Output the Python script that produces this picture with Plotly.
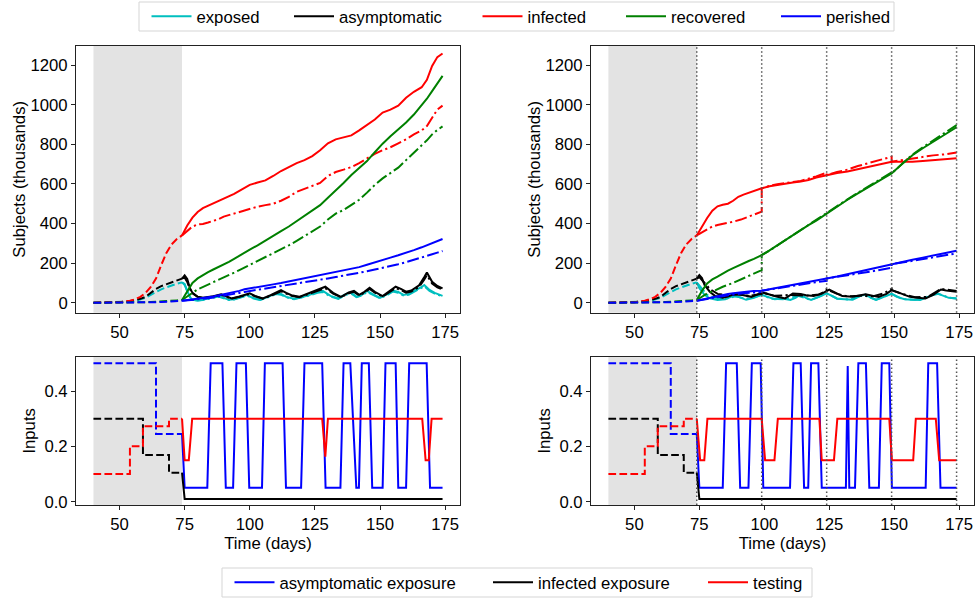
import plotly.graph_objects as go

# ---------------- data (thousands of subjects / input levels) ----------------
# shared history (dashed), days 40..74
pre_days = [40, 45, 50, 54, 56, 58, 60, 62, 64, 66, 68, 70, 72, 74]
pre_exposed = [0, 1, 2, 6, 10, 16, 25, 40, 55, 68, 78, 88, 96, 103]
pre_asymptomatic = [0, 1, 3, 8, 13, 20, 30, 50, 70, 84, 94, 104, 113, 122]
pre_infected = [0, 1, 3, 10, 18, 30, 50, 80, 122, 190, 252, 295, 322, 340]
pre_recovered = [0, 0, 0, 1, 1, 2, 3, 4, 5, 6, 8, 10, 12, 14]
pre_perished = [0, 0, 0, 0, 1, 1, 2, 2, 3, 4, 5, 6, 8, 10]

# left panel, after day 74 (solid = simulated, dash-dot = model)
L_days = [74, 76, 78, 80, 82, 84, 86, 88, 90, 92, 94, 96, 98, 100, 103, 106, 109, 112, 115, 118,
          121, 124, 127, 130, 133, 136, 139, 142, 145, 148, 151, 154, 157, 160, 163, 166, 168, 170, 172, 174]
L_infected = [340, 390, 430, 458, 478, 490, 500, 510, 522, 535, 550, 565, 582, 595, 607, 618, 640, 665, 685, 705,
              720, 740, 770, 805, 825, 835, 845, 870, 897, 925, 960, 975, 995, 1035, 1065, 1088, 1125, 1195, 1240, 1258]
L_infected_dd = [340, 365, 385, 395, 398, 405, 412, 422, 435, 443, 450, 460, 468, 475, 485, 493, 500, 515, 535, 560,
                 575, 588, 605, 640, 660, 672, 685, 705, 730, 752, 770, 785, 805, 825, 850, 870, 892, 935, 975, 995]
L_recovered = [14, 60, 100, 123, 140, 155, 168, 180, 193, 207, 222, 238, 255, 268, 290, 315, 340, 362, 385, 412,
               440, 468, 493, 530, 565, 605, 645, 680, 715, 760, 803, 840, 873, 910, 950, 995, 1030, 1068, 1105, 1145]
L_recovered_dd = [14, 30, 50, 68, 80, 90, 100, 112, 125, 140, 152, 165, 178, 190, 210, 230, 250, 268, 290, 312,
                  335, 358, 385, 420, 450, 468, 492, 520, 556, 595, 628, 655, 682, 720, 760, 795, 820, 850, 872, 890]
L_perished = [10, 13, 17, 20, 24, 28, 32, 37, 42, 47, 53, 60, 68, 72, 80, 86, 93, 100, 108, 116,
              125, 134, 140, 147, 155, 163, 171, 180, 192, 205, 216, 228, 240, 252, 266, 280, 290, 300, 311, 322]
L_perished_dd = [10, 12, 15, 17, 20, 23, 27, 31, 35, 40, 44, 50, 55, 59, 66, 72, 78, 85, 91, 98,
                 104, 110, 116, 123, 130, 137, 143, 150, 159, 168, 176, 185, 195, 205, 216, 228, 236, 245, 253, 261]

L_asym_days = [74, 75, 76, 77, 78, 80, 82, 84, 86, 89, 91, 93, 96, 100, 102, 105, 108, 112, 114, 116, 119, 122,
               125, 129, 132, 135, 138, 140, 142, 144, 146, 148, 151, 154, 156, 158, 160, 162, 165, 167, 168, 170, 172, 174]
L_asymptomatic = [122, 138, 120, 75, 50, 30, 25, 28, 33, 43, 32, 22, 32, 48, 35, 22, 38, 64, 50, 38, 30, 45,
                  60, 81, 50, 30, 52, 60, 40, 55, 76, 55, 34, 60, 81, 70, 56, 62, 88, 130, 153, 106, 85, 73]
L_asymptomatic_dd = [122, 128, 105, 70, 48, 30, 24, 26, 31, 40, 30, 21, 30, 44, 33, 21, 35, 58, 46, 35, 28, 42,
                     55, 74, 46, 28, 48, 55, 37, 51, 70, 51, 31, 55, 74, 64, 51, 57, 80, 118, 140, 97, 78, 67]
L_exp_days = [74, 75, 76, 77, 78, 80, 82, 84, 86, 88, 90, 92, 94, 97, 99, 101, 104, 107, 110, 112, 114, 117, 120,
              123, 126, 128, 131, 134, 137, 139, 141, 143, 145, 147, 150, 153, 155, 157, 159, 161, 164, 166, 167, 169, 171, 174]
L_exposed = [103, 95, 60, 30, 15, 12, 15, 22, 30, 35, 25, 15, 18, 32, 40, 25, 15, 30, 48, 45, 30, 20, 28,
             40, 55, 60, 35, 22, 45, 50, 30, 40, 60, 45, 25, 45, 62, 55, 40, 45, 65, 80, 90, 65, 50, 35]
L_exposed_dd = [103, 90, 58, 30, 15, 11, 14, 20, 28, 32, 23, 14, 17, 30, 37, 23, 14, 28, 44, 41, 28, 18, 26,
                37, 50, 55, 32, 20, 41, 46, 28, 37, 55, 41, 23, 41, 57, 50, 37, 41, 60, 74, 83, 60, 46, 32]

# right panel (model re-initialised every 25 days)
R_days = [74, 76, 78, 80, 82, 84, 86, 88, 90, 92, 94, 96, 99, 102, 105, 108, 111, 114, 117, 120,
          124, 128, 132, 136, 140, 144, 149, 153, 157, 161, 165, 170, 174]
R_infected = [340, 385, 428, 465, 487, 495, 500, 515, 535, 546, 555, 565, 578, 588, 595, 603, 607, 612, 620, 632,
              645, 655, 663, 675, 686, 698, 712, 712, 712, 716, 721, 725, 729]
R_recovered = [14, 60, 98, 118, 132, 148, 162, 175, 188, 200, 211, 222, 241, 265, 291, 318, 342, 368, 392, 415,
               451, 485, 520, 552, 583, 615, 653, 700, 745, 780, 813, 850, 886]
R_perished = [10, 16, 22, 28, 34, 39, 44, 48, 52, 54, 57, 59, 61, 68, 75, 83, 90, 98, 106, 113,
              123, 133, 145, 157, 168, 180, 195, 206, 217, 228, 239, 252, 263]
R_infected_dd_x = [74, 76, 78, 80, 82, 85, 88, 91, 94, 97, 99, 99, 102, 105, 108, 111, 114, 117, 120, 124,
                   124, 128, 132, 136, 140, 144, 148, 149, 149, 153, 157, 161, 165, 170, 174]
R_infected_dd = [340, 355, 368, 385, 393, 400, 409, 420, 434, 448, 460, 578, 590, 598, 605, 610, 615, 625, 638, 657,
                 645, 660, 672, 690, 705, 720, 735, 737, 712, 720, 729, 736, 744, 750, 758]
R_recovered_dd_x = [74, 76, 78, 81, 84, 88, 92, 96, 99, 99, 102, 106, 110, 114, 118, 121, 124, 124, 128, 132,
                    136, 140, 144, 149, 149, 153, 157, 161, 165, 170, 174]
R_recovered_dd = [14, 30, 47, 62, 81, 100, 125, 147, 165, 241, 263, 298, 333, 368, 400, 427, 455, 451, 487, 522,
                  555, 587, 620, 658, 653, 702, 748, 785, 820, 860, 897]
R_perished_dd_x = [74, 80, 86, 92, 99, 99, 105, 112, 118, 124, 124, 130, 136, 142, 149, 149, 155, 161, 168, 174]
R_perished_dd = [10, 25, 38, 48, 55, 61, 72, 88, 100, 111, 123, 135, 148, 160, 177, 195, 207, 222, 236, 249]

R_asym_days = [74, 75, 76, 77, 79, 81, 84, 86, 89, 92, 95, 97, 99, 102, 105, 108, 111, 114, 116, 119,
               122, 125, 128, 130, 134, 137, 139, 142, 144, 147, 149, 152, 156, 159, 162, 165, 168, 170, 174]
R_asymptomatic = [122, 140, 125, 90, 56, 35, 25, 32, 47, 38, 30, 40, 53, 42, 30, 22, 47, 45, 38, 34,
                  45, 67, 48, 34, 30, 38, 43, 35, 30, 45, 64, 50, 30, 25, 22, 40, 67, 62, 56]
R_exp_days = [74, 75, 77, 79, 82, 85, 88, 90, 93, 96, 99, 101, 104, 107, 110, 112, 114, 116, 118, 121,
              124, 126, 128, 131, 134, 137, 139, 141, 143, 146, 149, 151, 154, 157, 160, 163, 166, 168, 171, 174]
R_exposed = [103, 74, 40, 22, 14, 18, 35, 30, 15, 25, 40, 30, 18, 22, 14, 25, 42, 25, 14, 30,
             48, 35, 20, 18, 15, 35, 42, 25, 14, 30, 45, 30, 18, 15, 14, 30, 48, 40, 25, 22]
R_asym_dd_x = [74, 75, 77, 79, 82, 86, 90, 94, 99, 99, 104, 110, 116, 121, 124, 124, 128, 132, 137, 142,
               146, 149, 149, 153, 158, 163, 168, 171, 174]
R_asymptomatic_dd = [122, 130, 100, 70, 45, 38, 42, 35, 45, 53, 35, 40, 36, 42, 60, 67, 45, 32, 36, 33,
                     48, 70, 64, 45, 28, 30, 70, 66, 60]
R_exp_dd_x = [74, 76, 78, 81, 85, 89, 93, 96, 99, 99, 103, 108, 113, 118, 121, 124, 124, 128, 133, 138,
              143, 147, 149, 149, 153, 158, 163, 167, 171, 174]
R_exposed_dd = [103, 70, 40, 25, 20, 33, 20, 28, 38, 40, 20, 18, 35, 15, 30, 45, 48, 22, 16, 40,
                16, 35, 43, 45, 20, 15, 32, 46, 26, 22]

# inputs: shared history (dashed)
in_asym_pre_x = [40, 64, 64, 74]
in_asym_pre = [0.5, 0.5, 0.245, 0.245]
in_inf_pre_x = [40, 59, 59, 69, 69, 74]
in_inf_pre = [0.3, 0.3, 0.169, 0.169, 0.105, 0.105]
in_test_pre_x = [40, 54, 54, 59, 59, 69, 69, 74]
in_test_pre = [0.1, 0.1, 0.2, 0.2, 0.273, 0.273, 0.3, 0.3]
# inputs: left panel
L_asym_exp_x = [74, 75, 83.7, 85, 89.5, 90.8, 93.6, 94.9, 98.5, 99.8, 104.7, 105.8, 112.6, 113.9, 119.7, 121,
                127.8, 129.1, 134.8, 136, 138.6, 140.9, 141.9, 143, 145.7, 147, 151, 152.1, 156, 157, 160,
                161.2, 167.9, 169.2, 174]
L_asym_exp = [0.245, 0.05, 0.05, 0.5, 0.5, 0.05, 0.05, 0.5, 0.5, 0.05, 0.05, 0.5, 0.5, 0.05, 0.05, 0.5,
              0.5, 0.05, 0.05, 0.5, 0.5, 0.05, 0.05, 0.5, 0.5, 0.05, 0.05, 0.5, 0.5, 0.05, 0.05,
              0.5, 0.5, 0.05, 0.05]
L_inf_exp_x = [74, 75, 174]
L_inf_exp = [0.105, 0.01, 0.01]
L_test_x = [74, 75, 76.6, 77.9, 127.8, 129, 130, 166.2, 167.5, 168.7, 169.8, 174]
L_test = [0.3, 0.15, 0.15, 0.3, 0.3, 0.163, 0.3, 0.3, 0.15, 0.15, 0.3, 0.3]
# inputs: right panel
R_asym_exp_x = [74, 75, 84, 85.3, 89.4, 90.7, 93.9, 95.2, 98.6, 99.6, 109.9, 111.2, 114, 115.3, 116.9, 118,
                120.8, 122.1, 131.4, 132.1, 132.7, 134.9, 136.2, 139.1, 140.4, 144.1, 145.2, 148.1, 149.1,
                162.1, 163.1, 166.5, 167.8, 174]
R_asym_exp = [0.245, 0.05, 0.05, 0.5, 0.5, 0.05, 0.05, 0.5, 0.5, 0.05, 0.05, 0.5, 0.5, 0.05, 0.05, 0.5,
              0.5, 0.05, 0.05, 0.49, 0.05, 0.05, 0.5, 0.5, 0.05, 0.05, 0.5, 0.5, 0.05,
              0.05, 0.5, 0.5, 0.05, 0.05]
R_inf_exp_x = [74, 75, 174]
R_inf_exp = [0.105, 0.01, 0.01]
R_test_x = [74, 75.3, 76.9, 78.1, 99, 100.3, 103.9, 105.2, 121.2, 122.1, 126.8, 128.1, 148.1, 149.1,
            157.3, 158.3, 166, 167.3, 174]
R_test = [0.3, 0.15, 0.15, 0.3, 0.3, 0.15, 0.15, 0.3, 0.3, 0.15, 0.15, 0.3, 0.3, 0.15,
          0.15, 0.3, 0.3, 0.15, 0.15]

shade_span = [40, 74]
restart_days = [74, 99, 124, 149, 174]
x_ticks = [50, 75, 100, 125, 150, 175]
y_ticks_top = [0, 200, 400, 600, 800, 1000, 1200]
y_ticks_bot = [0.0, 0.2, 0.4]
top_labels = ["exposed", "asymptomatic", "infected", "recovered", "perished"]
bot_labels = ["asymptomatic exposure", "infected exposure", "testing"]

# ---------------- styling / geometry ----------------
L, R, T, B = 76, 974, 46, 505
def PX(p):
    return (p - L) / (R - L)
def PY(p):
    return (B - p) / (B - T)

FONT = "Liberation Sans, Arial, Helvetica, sans-serif"
FS = 16.7
DASH = "7.7px,3.3px"
DASHDOT = "12px,3.3px,2.2px,3.3px"
COL = {"exposed": "#00bfbf", "asymptomatic": "#000000", "infected": "#ff0000",
       "recovered": "#008000", "perished": "#0000ff"}
INCOL = {"asymptomatic exposure": "#0000ff", "infected exposure": "#000000", "testing": "#ff0000"}
ITEMW = 40

fig = go.Figure()

def add(x, y, color, dash, xa, ya, name=None, legend=None):
    fig.add_trace(go.Scatter(
        x=x, y=y, mode="lines", line=dict(color=color, width=2, dash=dash),
        xaxis=xa, yaxis=ya, name=name, showlegend=legend is not None,
        legend=legend if legend else "legend", hoverinfo="skip"))

pre = {"exposed": pre_exposed, "asymptomatic": pre_asymptomatic, "infected": pre_infected,
       "recovered": pre_recovered, "perished": pre_perished}
left = {
    "exposed": (L_exp_days, L_exposed, L_exp_days, L_exposed_dd),
    "asymptomatic": (L_asym_days, L_asymptomatic, L_asym_days, L_asymptomatic_dd),
    "infected": (L_days, L_infected, L_days, L_infected_dd),
    "recovered": (L_days, L_recovered, L_days, L_recovered_dd),
    "perished": (L_days, L_perished, L_days, L_perished_dd),
}
right = {
    "exposed": (R_exp_days, R_exposed, R_exp_dd_x, R_exposed_dd),
    "asymptomatic": (R_asym_days, R_asymptomatic, R_asym_dd_x, R_asymptomatic_dd),
    "infected": (R_days, R_infected, R_infected_dd_x, R_infected_dd),
    "recovered": (R_days, R_recovered, R_recovered_dd_x, R_recovered_dd),
    "perished": (R_days, R_perished, R_perished_dd_x, R_perished_dd),
}
top_leg_ids = ["legend", "legend2", "legend3", "legend4", "legend5"]
for i, k in enumerate(top_labels):
    c = COL[k]
    add(pre_days, pre[k], c, DASH, "x", "y")
    xs, ys, xd, yd = left[k]
    add(xd, yd, c, DASHDOT, "x", "y")
    add(xs, ys, c, "solid", "x", "y", name=k, legend=top_leg_ids[i])
    add(pre_days, pre[k], c, DASH, "x2", "y2")
    xs, ys, xd, yd = right[k]
    add(xd, yd, c, DASHDOT, "x2", "y2")
    add(xs, ys, c, "solid", "x2", "y2")

in_pre = {"asymptomatic exposure": (in_asym_pre_x, in_asym_pre),
          "infected exposure": (in_inf_pre_x, in_inf_pre),
          "testing": (in_test_pre_x, in_test_pre)}
in_left = {"asymptomatic exposure": (L_asym_exp_x, L_asym_exp),
           "infected exposure": (L_inf_exp_x, L_inf_exp),
           "testing": (L_test_x, L_test)}
in_right = {"asymptomatic exposure": (R_asym_exp_x, R_asym_exp),
            "infected exposure": (R_inf_exp_x, R_inf_exp),
            "testing": (R_test_x, R_test)}
bot_leg_ids = ["legend6", "legend7", "legend8"]
for i, k in enumerate(bot_labels):
    c = INCOL[k]
    add(*in_pre[k], c, DASH, "x3", "y3")
    add(*in_left[k], c, "solid", "x3", "y3", name=k, legend=bot_leg_ids[i])
    add(*in_pre[k], c, DASH, "x4", "y4")
    add(*in_right[k], c, "solid", "x4", "y4")

shapes = []
for xa, ya in [("x", "y"), ("x2", "y2"), ("x3", "y3"), ("x4", "y4")]:
    shapes.append(dict(type="rect", xref=xa, yref=ya + " domain", x0=shade_span[0], x1=shade_span[1],
                       y0=0, y1=1, fillcolor="#e3e3e3", line=dict(width=0), layer="below"))
for xa, ya in [("x2", "y2"), ("x4", "y4")]:
    for d in restart_days:
        shapes.append(dict(type="line", xref=xa, yref=ya + " domain", x0=d, x1=d, y0=0, y1=1,
                           line=dict(color="#555555", width=1.5, dash="1.5px,2.5px"), layer="above"))
shapes.append(dict(type="rect", xref="paper", yref="paper", x0=PX(139), x1=PX(894), y0=PY(31), y1=PY(2),
                   line=dict(color="#d5d5d5", width=1), fillcolor="white", layer="below"))
shapes.append(dict(type="rect", xref="paper", yref="paper", x0=PX(222), x1=PX(812), y0=PY(597), y1=PY(568),
                   line=dict(color="#d5d5d5", width=1), fillcolor="white", layer="below"))

axis_common = dict(showline=True, linecolor="#222222", linewidth=1, mirror=True, ticks="outside",
                   ticklen=4, tickwidth=1, tickcolor="#222222", showgrid=False, zeroline=False,
                   automargin=False, tickfont=dict(size=FS, color="black", family=FONT))
xdl = [0, PX(460)]
xdr = [PX(591), 1]
ydt = [PY(312.7), 1]
ydb = [0, PY(356.7)]
xr = [33.3, 180.7]

layout = dict(
    width=977, height=601,
    margin=dict(l=L, r=977 - R, t=T, b=601 - B, autoexpand=False),
    paper_bgcolor="white", plot_bgcolor="white",
    font=dict(family=FONT, size=FS, color="black"),
    xaxis=dict(axis_common, domain=xdl, anchor="y", range=xr, tickvals=x_ticks),
    xaxis2=dict(axis_common, domain=xdr, anchor="y2", range=xr, tickvals=x_ticks),
    xaxis3=dict(axis_common, domain=xdl, anchor="y3", range=xr, tickvals=x_ticks,
                title=dict(text="Time (days)", standoff=4, font=dict(size=FS))),
    xaxis4=dict(axis_common, domain=xdr, anchor="y4", range=xr, tickvals=x_ticks,
                title=dict(text="Time (days)", standoff=4, font=dict(size=FS))),
    yaxis=dict(axis_common, domain=ydt, anchor="x", range=[-50, 1296], tickvals=y_ticks_top,
               title=dict(text="Subjects (thousands)", standoff=0, font=dict(size=FS))),
    yaxis2=dict(axis_common, domain=ydt, anchor="x2", range=[-50, 1296], tickvals=y_ticks_top,
                title=dict(text="Subjects (thousands)", standoff=0, font=dict(size=FS))),
    yaxis3=dict(axis_common, domain=ydb, anchor="x3", range=[-0.012, 0.524], tickvals=y_ticks_bot,
                ticktext=["0.0", "0.2", "0.4"],
                title=dict(text="Inputs", standoff=4, font=dict(size=FS))),
    yaxis4=dict(axis_common, domain=ydb, anchor="x4", range=[-0.012, 0.524], tickvals=y_ticks_bot,
                ticktext=["0.0", "0.2", "0.4"],
                title=dict(text="Inputs", standoff=4, font=dict(size=FS))),
    shapes=shapes,
)
top_text_x = [196.5, 339, 527.5, 671, 826]
bot_text_x = [279.5, 538, 753]
for lid, tx in zip(top_leg_ids, top_text_x):
    layout[lid] = dict(x=PX(tx - ITEMW - 10), xanchor="left", y=PY(16.5), yanchor="middle",
                       itemwidth=ITEMW, bgcolor="rgba(0,0,0,0)", borderwidth=0,
                       font=dict(size=FS, color="black"))
for lid, tx in zip(bot_leg_ids, bot_text_x):
    layout[lid] = dict(x=PX(tx - ITEMW - 10), xanchor="left", y=PY(582.5), yanchor="middle",
                       itemwidth=ITEMW, bgcolor="rgba(0,0,0,0)", borderwidth=0,
                       font=dict(size=FS, color="black"))
fig.update_layout(**layout)
fig.write_html("out.html", config={"displayModeBar": False},
               post_script="document.body.style.margin='0';document.body.style.overflow='hidden';")
